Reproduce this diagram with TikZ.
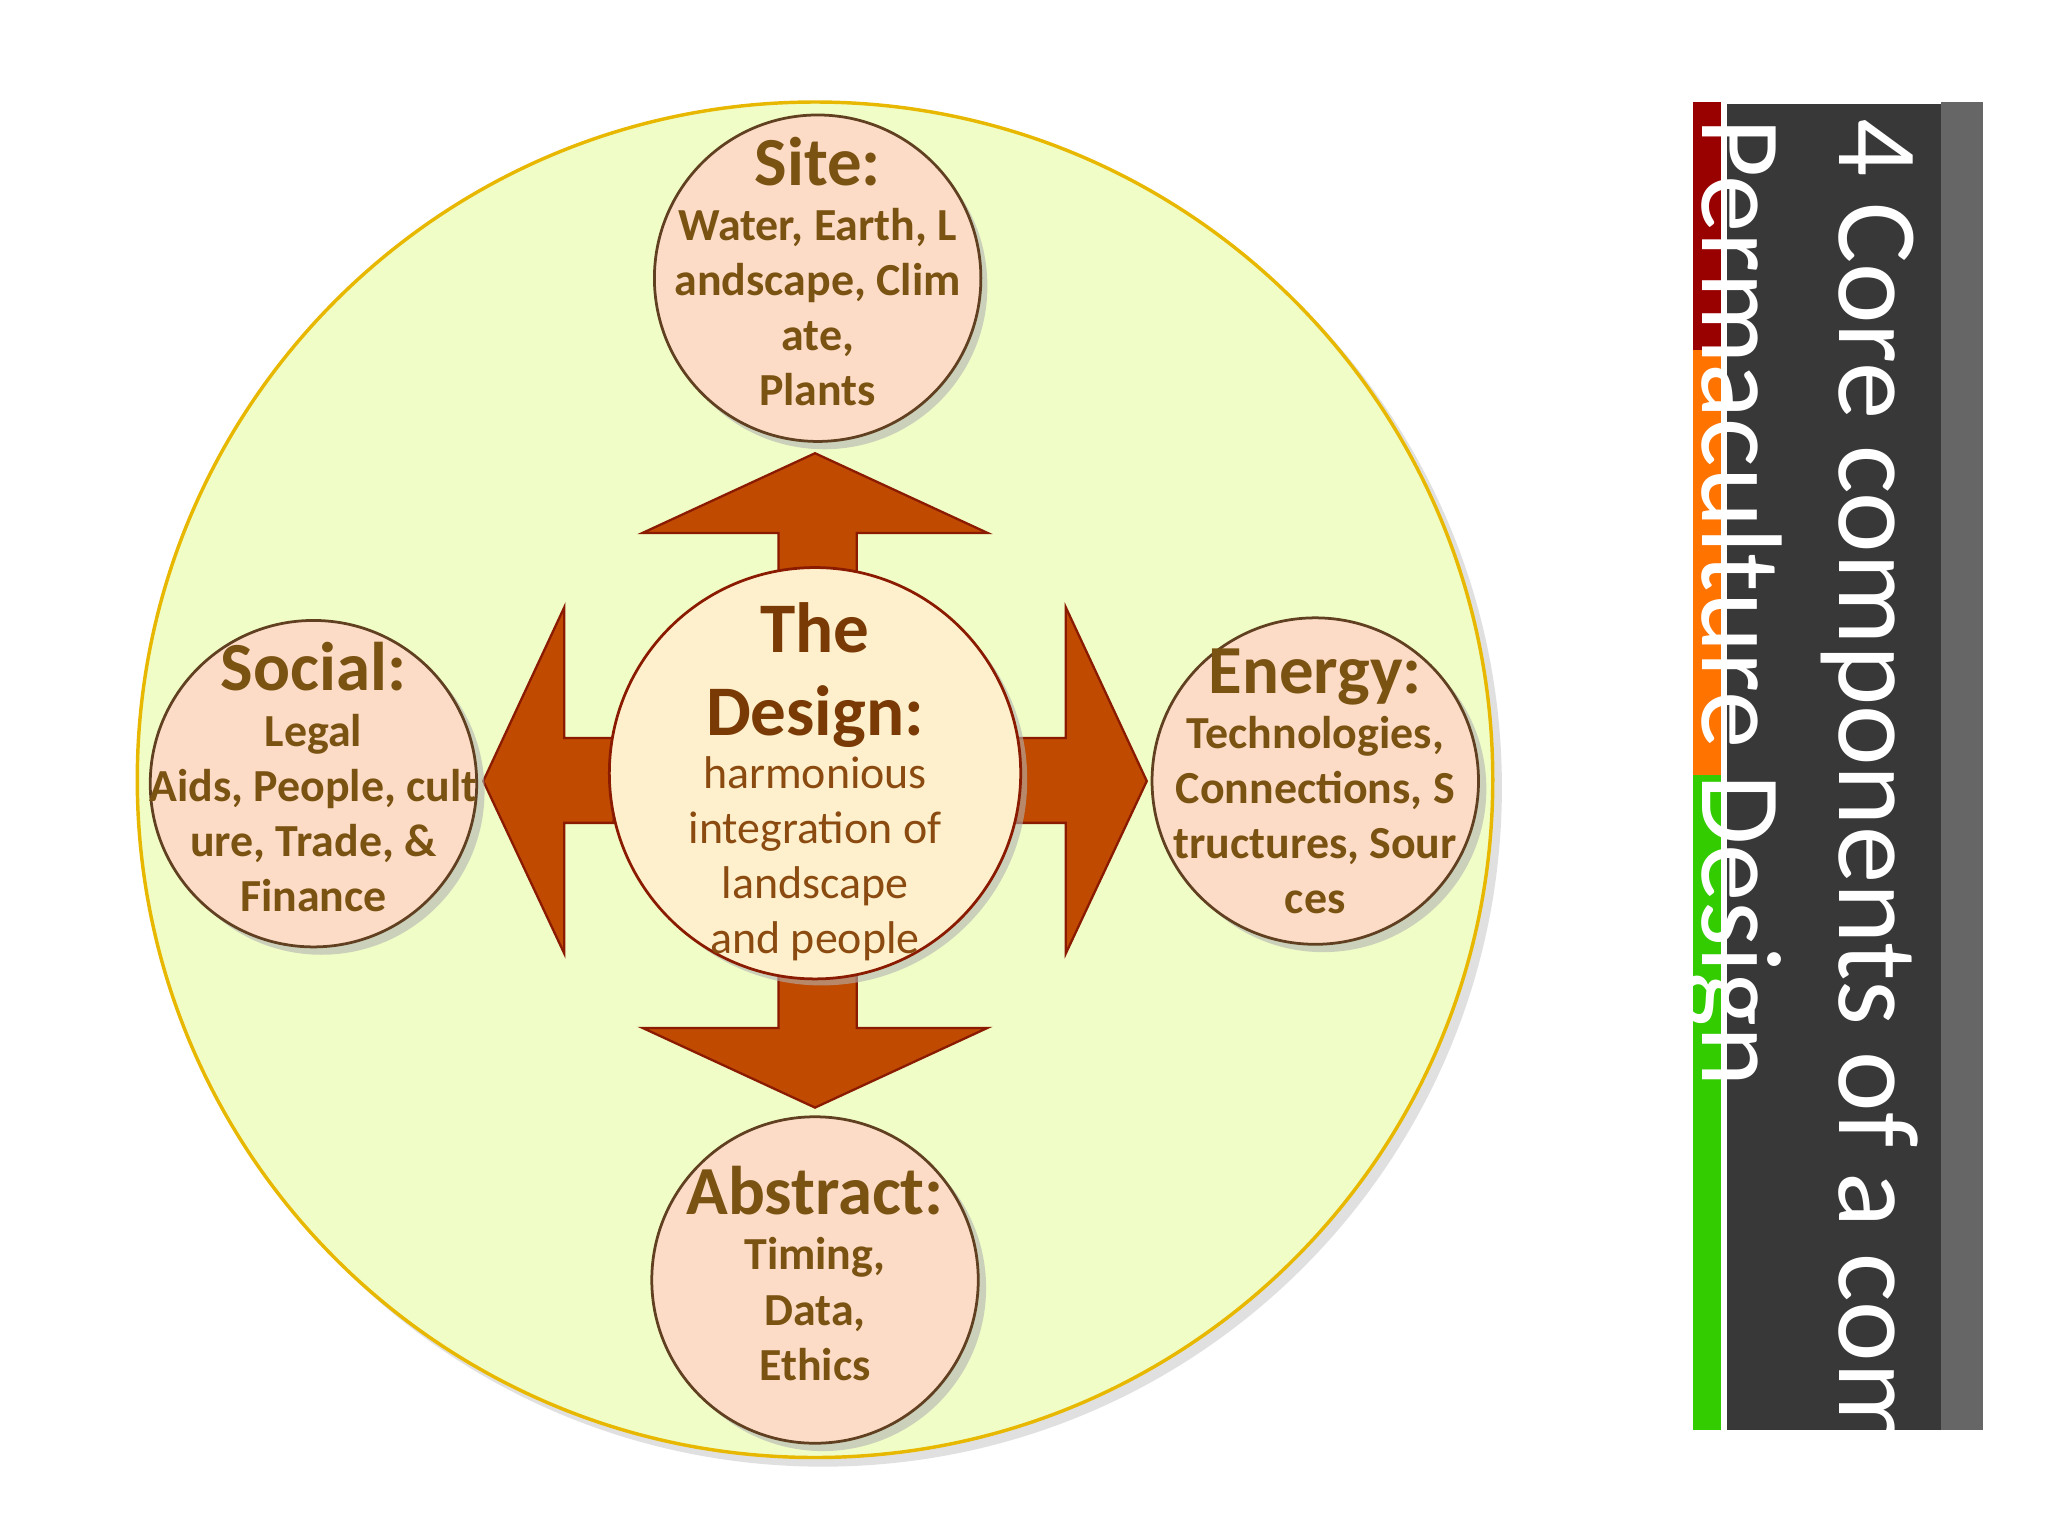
\documentclass[tikz,border=0pt]{standalone}
\usepackage{fontspec}
\setmainfont{Carlito}
\begin{document}
\begin{tikzpicture}[x=0.02cm,y=-0.02cm,
  txt/.style={font=\bfseries\fontsize{20}{24}\selectfont, align=center},
  comp/.style={circle, draw=brown!50!black, line width=1.2pt, fill=compfill, minimum size=5cm, inner sep=0pt},
  arr/.style={fill=arrowfill, draw=arrowline, line width=1pt, line join=miter}]
\definecolor{bigfill}{HTML}{F0FDC6}
\definecolor{compfill}{HTML}{FCDCC6}
\definecolor{arrowfill}{HTML}{BF4A00}
\definecolor{arrowline}{HTML}{8A1A00}
\definecolor{designfill}{HTML}{FEF0CC}
\definecolor{tbrown}{HTML}{7A5212}
\definecolor{dbrown}{HTML}{7A3A05}
\definecolor{lbrown}{HTML}{8A4A10}
\definecolor{goldline}{HTML}{E8B800}
\useasboundingbox (0,0) rectangle (1568,1176);
% big circle
\fill[gray!40, opacity=0.6] (630,603) circle (10.4cm);
\node[circle, fill=bigfill, draw=goldline, line width=1.5pt, minimum size=20.76cm, inner sep=0pt] (big) at (624,597) {};
% arrows
\draw[arr] (596,440) -- (596,408) -- (492,408) -- (624,347) -- (756,408) -- (656,408) -- (656,440) -- cycle;
\draw[arr] (596,745) -- (596,787) -- (492,787) -- (624,848) -- (756,787) -- (656,787) -- (656,745) -- cycle;
\draw[arr] (470,565) -- (432,565) -- (432,465) -- (370,598) -- (432,730) -- (432,630) -- (470,630) -- cycle;
\draw[arr] (778,565) -- (816,565) -- (816,465) -- (878,598) -- (816,730) -- (816,630) -- (778,630) -- cycle;
% shadows of circles
\fill[gray!60, opacity=0.6] (631,219) circle (2.5cm);
\fill[gray!60, opacity=0.6] (246,606) circle (2.5cm);
\fill[gray!60, opacity=0.6] (1013,604) circle (2.5cm);
\fill[gray!60, opacity=0.6] (630,986) circle (2.5cm);
\fill[gray!60, opacity=0.6] (629,597) circle (3.15cm);
% components
\node[comp] (site) at (626,213) {};
\node[txt, text=tbrown] (sitet) at (626,208) {\fontsize{30}{34}\selectfont Site:\\Water, Earth, L\\andscape, Clim\\ate,\\Plants};
\node[comp] (social) at (240,600) {};
\node[txt, text=tbrown] (socialt) at (240,595) {\fontsize{30}{34}\selectfont Social:\\Legal\\Aids, People, cult\\ure, Trade, \&\\Finance};
\node[comp] (energy) at (1007,598) {};
\node[txt, text=tbrown] (energyt) at (1007,598) {\fontsize{30}{34}\selectfont Energy:\\Technologies,\\Connections, S\\tructures, Sour\\ces};
\node[comp] (abstract) at (624,980) {};
\node[txt, text=tbrown] (abstractt) at (624,975) {\fontsize{30}{34}\selectfont Abstract:\\Timing,\\Data,\\Ethics};
% design
\node[circle, fill=designfill, draw=arrowline, line width=1.2pt, minimum size=6.3cm, inner sep=0pt] (design) at (624,592) {};
\node[align=center, text=dbrown, font=\bfseries\fontsize{31}{36}\selectfont] (dt) at (624,517) {The\\Design:};
\node[align=center, text=lbrown, font=\fontsize{20}{24}\selectfont, anchor=north, inner sep=0pt] (db) at (dt.south) {harmonious\\integration of\\landscape\\and people};
% sidebar
\fill[red!60!black] (1296,78) rectangle (1318,268);
\fill[orange!90!red] (1296,268) rectangle (1318,593);
\fill[green!60!olive] (1296,593) rectangle (1318,1095);
\fill[black!78] (1322,80) rectangle (1486,1095);
\fill[black!60] (1486,78) rectangle (1518,1095);
\node[rotate=-90, anchor=north west, text=white, font=\fontsize{50}{60}\selectfont, align=left, inner sep=0pt] (title) at (1470,90)
  {4 Core components of a complete\\Permaculture Design};
\end{tikzpicture}
\end{document}
